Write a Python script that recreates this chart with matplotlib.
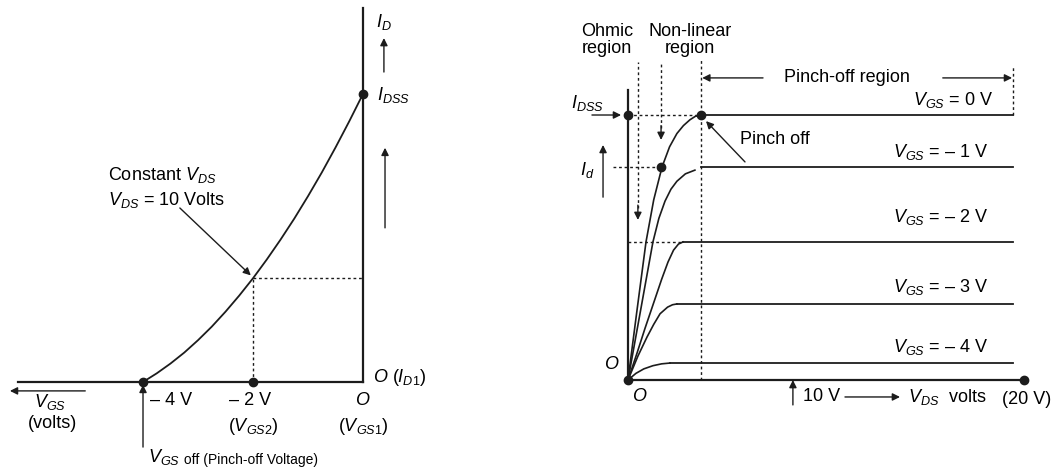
import matplotlib
matplotlib.use("Agg")
import matplotlib.pyplot as plt

plt.rcParams['font.family'] = ['Liberation Sans', 'DejaVu Sans']
plt.rcParams['mathtext.fontset'] = 'custom'
plt.rcParams['mathtext.rm'] = 'Liberation Sans'
plt.rcParams['mathtext.it'] = 'Liberation Sans:italic'
plt.rcParams['mathtext.bf'] = 'Liberation Sans:bold'

INK = '#1c1c1c'
FS = 13

# transfer characteristic (left): VGS in volts, ID in mA (IDSS = 10)
vgs_curve = [-4, -3.75, -3.5, -3.25, -3, -2.75, -2.5, -2.25, -2,
             -1.75, -1.5, -1.25, -1, -0.75, -0.5, -0.25, 0]
id_curve = [0, 0.30, 0.64, 1.02, 1.45, 1.92, 2.44, 3.00, 3.60,
            4.25, 4.94, 5.67, 6.45, 7.27, 8.14, 9.05, 10]
vgs_marks = [-4, -2, 0]
id_marks = [0, 0, 10]
vgs_q, id_q = -2, 3.6

# drain characteristics (right): VDS in volts, ID in mA
vds_end = 19.44
vds_pinch = 3.69
vds_ohmic = 0.5
vds_nonlin = 1.67
vgs_labels = ['0 V', '– 1 V', '– 2 V', '– 3 V', '– 4 V']
id_levels = [10, 8.04, 5.21, 2.87, 0.64]
rise_vds = [
    [0, 0.45, 0.91, 1.30, 1.72, 2.10, 2.47, 2.80, 3.13, 3.40, 3.69],
    [0, 0.63, 1.26, 1.56, 1.87, 2.17, 2.47, 2.90, 3.38],
    [0, 0.45, 0.86, 1.36, 1.70, 2.02, 2.30, 2.55, 2.78],
    [0, 0.50, 0.96, 1.30, 1.62, 2.00, 2.25, 2.47],
    [0, 0.40, 0.80, 1.26, 1.70, 2.12],
]
rise_id = [
    [0, 2.6, 5.21, 6.8, 8.04, 8.8, 9.3, 9.6, 9.82, 9.95, 10],
    [0, 2.6, 5.21, 6.1, 6.75, 7.2, 7.5, 7.78, 7.92],
    [0, 1.0, 1.95, 3.05, 3.8, 4.45, 4.9, 5.13, 5.21],
    [0, 0.9, 1.62, 2.1, 2.5, 2.75, 2.84, 2.87],
    [0, 0.25, 0.42, 0.54, 0.61, 0.64],
]
flat_start = [3.69, 3.69, 2.78, 2.47, 2.12]
label_x = [14.39, 13.38, 13.38, 13.38, 13.38]
label_y = [10.57, 8.6, 6.15, 3.51, 1.25]


def arrow(ax, tail, head, lw=1.0):
    ax.annotate('', xy=head, xytext=tail,
                arrowprops=dict(arrowstyle='-|>', color=INK, lw=lw,
                                mutation_scale=11, shrinkA=0, shrinkB=0))


def dashed(ax, xs, ys):
    ax.plot(xs, ys, color=INK, lw=1.0, ls=(0, (2, 2)))


fig = plt.figure(figsize=(10.59, 4.70), dpi=100)

# ---------------- left panel ----------------
axl = fig.add_axes([0, 0, 420 / 1059, 1])
axl.set_xlim(-6.6, 1.036)
axl.set_ylim(-3.056, 13.26)
axl.axis('off')

axl.plot([-6.27, 0], [0, 0], color=INK, lw=1.6)
axl.plot([0, 0], [0, 12.99], color=INK, lw=1.6)
axl.plot(vgs_curve, id_curve, color=INK, lw=1.3)
dashed(axl, [vgs_q, 0], [id_q, id_q])
dashed(axl, [vgs_q, vgs_q], [0, id_q])
axl.plot(vgs_marks, id_marks, 'o', color=INK, ms=6, zorder=5)

axl.text(0.24, 12.5, '$I_D$', fontsize=FS, va='center')
arrow(axl, (0.38, 10.76), (0.38, 11.94))
axl.text(0.25, 9.97, '$I_{DSS}$', fontsize=FS, va='center')
arrow(axl, (0.4, 5.35), (0.4, 8.13))
axl.text(-4.64, 7.19, 'Constant $V_{DS}$', fontsize=FS, va='center')
axl.text(-4.64, 6.32, '$V_{DS}$ = 10 Volts', fontsize=FS, va='center')
arrow(axl, (-3.33, 6.04), (-2.04, 3.7))
axl.text(0.18, 0.14, '$O$ ($I_{D1}$)', fontsize=FS, va='center')

arrow(axl, (-5.05, -0.31), (-6.42, -0.31))
axl.text(-5.69, -0.70, '$V_{GS}$', fontsize=FS, ha='center', va='center')
axl.text(-5.64, -1.45, '(volts)', fontsize=FS, ha='center', va='center')
arrow(axl, (-4, -2.26), (-4, -0.1))
axl.text(-3.87, -0.63, '– 4 V', fontsize=FS, va='center')
axl.text(-2.05, -0.63, '– 2 V', fontsize=FS, ha='center', va='center')
axl.text(-2.0, -1.56, '($V_{GS2}$)', fontsize=FS, ha='center', va='center')
axl.text(0, -0.63, '$O$', fontsize=FS, ha='center', va='center')
axl.text(0, -1.56, '($V_{GS1}$)', fontsize=FS, ha='center', va='center')
voff = axl.text(-3.91, -2.6, '$V_{GS}$', fontsize=FS, va='center')
axl.annotate(' off (Pinch-off Voltage)', xy=(1, 0), xycoords=voff,
             fontsize=10, va='bottom', ha='left')

# ---------------- right panel ----------------
axr = fig.add_axes([540 / 1059, 0, 519 / 1059, 1])
axr.set_xlim(-4.444, 21.77)
axr.set_ylim(-3.396, 14.34)
axr.axis('off')

axr.plot([0, 20], [0, 0], color=INK, lw=1.6)
axr.plot([0, 0], [0, 10.94], color=INK, lw=1.6)

for k in range(len(id_levels)):
    axr.plot(rise_vds[k], rise_id[k], color=INK, lw=1.2)
    axr.plot([flat_start[k], vds_end], [id_levels[k], id_levels[k]],
             color=INK, lw=1.3)
    axr.text(label_x[k], label_y[k], '$V_{GS}$ = ' + vgs_labels[k],
             fontsize=FS, va='center')

# dotted guides
dashed(axr, [0, vds_pinch], [10, 10])
dashed(axr, [-0.76, 1.72], [8.04, 8.04])
dashed(axr, [0, 2.78], [5.21, 5.21])
dashed(axr, [vds_pinch, vds_pinch], [0, 12.07])
dashed(axr, [vds_end, vds_end], [10, 11.9])
dashed(axr, [vds_ohmic, vds_ohmic], [6.5, 12.0])
arrow(axr, (vds_ohmic, 6.6), (vds_ohmic, 6.04))
dashed(axr, [vds_nonlin, vds_nonlin], [9.5, 12.0])
arrow(axr, (vds_nonlin, 9.6), (vds_nonlin, 9.06))

axr.plot([0, vds_nonlin, vds_pinch, 0, 20], [10, 8.04, 10, 0, 0], 'o',
         color=INK, ms=6, zorder=5)

axr.text(-1.06, 12.83, 'Ohmic\nregion', fontsize=FS, ha='center',
         va='center', linespacing=1.05)
axr.text(3.13, 12.83, 'Non-linear\nregion', fontsize=FS, ha='center',
         va='center', linespacing=1.05)
axr.text(11.06, 11.4, 'Pinch-off region', fontsize=FS, ha='center',
         va='center')
arrow(axr, (6.82, 11.4), (3.75, 11.4))
arrow(axr, (15.9, 11.4), (19.4, 11.4))

axr.text(5.66, 9.06, 'Pinch off', fontsize=FS, va='center')
arrow(axr, (5.91, 8.23), (3.94, 9.77))

axr.text(-2.9, 10.45, '$I_{DSS}$', fontsize=FS, va='center')
arrow(axr, (-1.82, 10), (-0.35, 10))
axr.text(-2.42, 7.92, '$I_d$', fontsize=FS, va='center')
arrow(axr, (-1.26, 6.9), (-1.26, 8.87))

axr.text(-0.81, 0.57, '$O$', fontsize=FS, ha='center', va='center')
axr.text(0.6, -0.64, '$O$', fontsize=FS, ha='center', va='center')
arrow(axr, (8.33, -0.94), (8.33, 0))
axr.text(8.84, -0.64, '10 V', fontsize=FS, va='center')
arrow(axr, (10.96, -0.64), (13.74, -0.64))
axr.text(14.14, -0.64, '$V_{DS}$  volts', fontsize=FS, va='center')
axr.text(18.9, -0.75, '(20 V)', fontsize=FS, va='center')

fig.savefig('out.png', dpi=100, facecolor='white')
